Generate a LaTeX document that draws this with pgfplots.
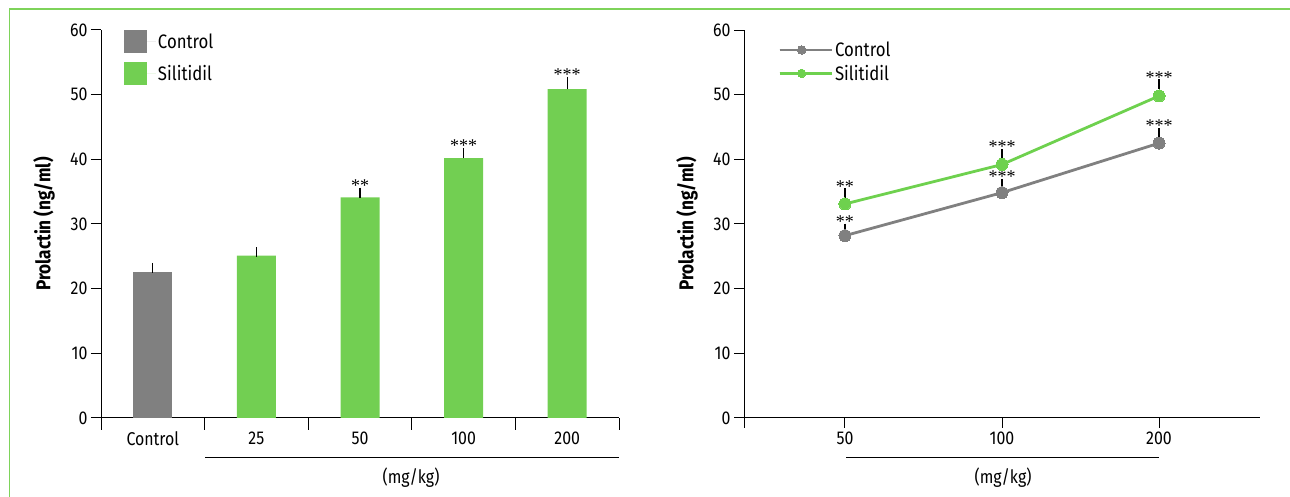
\documentclass[border=0pt]{standalone}
\usepackage{fontspec}
\setmainfont{Fira Sans}[FakeStretch=0.86]
\newfontfamily\starfont{Liberation Serif}
\usepackage{pgfplots}
\pgfplotsset{compat=1.18}
\definecolor{cgrey}{RGB}{128,128,128}
\definecolor{cgreen}{RGB}{114,207,82}
\definecolor{lgreen}{RGB}{110,209,78}
\definecolor{framec}{RGB}{126,211,90}
\newcommand{\tickfont}{\fontsize{18.5}{20}\selectfont}
\newcommand{\legfont}{\fontsize{19.5}{21}\selectfont}
\newcommand{\stars}[1]{{\starfont\fontsize{18}{18}\selectfont #1}}
\pgfplotsset{
  common/.style={
    scale only axis,
    anchor=south west,
    ymin=0, ymax=60,
    ytick={0,10,...,60},
    axis lines=left,
    axis line style={-, line width=1pt, black},
    tick align=outside,
    tick pos=left,
    major tick length=10pt,
    every tick/.style={black, line width=1pt},
    ticklabel style={font=\tickfont},
    /pgf/number format/assume math mode=true,
    ylabel={\bfseries Prolactin (ng/ml)},
    every axis y label/.style={at={(rel axis cs:0,0.5)}, xshift=-57pt, rotate=90, anchor=center, font=\fontsize{20}{22}\selectfont},
    clip=false,
  },
  ebar/.style={error bars/.cd, y dir=plus, y explicit,
    error bar style={black, line width=1pt},
    error mark options={black, line width=1.2pt, mark size=5pt}},
}
\begin{document}
\begin{tikzpicture}
\path[use as bounding box] (0pt,0pt) rectangle (1290pt,497pt);
\draw[framec, line width=1.2pt] (9.5pt,0pt) -- (9.5pt,488pt) -- (1290pt,488pt);

% ---------------- left: bars
\begin{axis}[common,
  at={(101pt,79pt)}, width=518pt, height=388pt,
  xmin=-0.5, xmax=4.5,
  ybar, bar width=39pt, bar shift=0pt,
  xtick={0,1,2,3,4}, xticklabels={Control,25,50,100,200},
  major x tick style={draw=none},
  minor xtick={-0.5,0.5,1.5,2.5,3.5,4.5},
  minor tick length=12pt,
  legend style={at={(rel axis cs:0.044,1.0)}, anchor=north west, draw=none, fill=none,
    inner sep=0pt, row sep=9pt, font=\legfont, cells={anchor=west}},
  legend image code/.code={\fill[#1, draw=none] (0pt,-11.5pt) rectangle (23pt,11.5pt); \path (0pt,0pt) -- (32pt,0pt);},
]
\addplot[fill=cgrey, draw=none, ebar]
  coordinates {(0,22.5) +- (0,0.7)};
\addlegendentry{Control}
\addplot[fill=cgreen, draw=none, ebar]
  coordinates {(1,25.1) +- (0,0.5) (2,34.1) +- (0,0.75) (3,40.2) +- (0,0.75) (4,50.85) +- (0,1.15)};
\addlegendentry{Silitidil}
\node[anchor=south, inner sep=0pt, yshift=1pt] at (axis cs:2,34.85) {\stars{**}};
\node[anchor=south, inner sep=0pt, yshift=1pt] at (axis cs:3,40.95) {\stars{***}};
\node[anchor=south, inner sep=0pt, yshift=1pt] at (axis cs:4,52.0) {\stars{***}};
\end{axis}
\draw[line width=1pt] (205pt,39pt) -- (619pt,39pt);
\node[font=\tickfont] at (411pt,19pt) {(mg/kg)};

% ---------------- right: lines
\begin{axis}[common,
  at={(744pt,79pt)}, width=516pt, height=388pt,
  xmin=-0.643, xmax=2.643,
  xtick={0,1,2}, xticklabels={50,100,200},
  minor xtick={-0.643},
  minor tick length=10pt,
  legend style={at={(rel axis cs:0.066,0.975)}, anchor=north west, draw=none, fill=none,
    inner sep=0pt, row sep=3pt, font=\legfont, cells={anchor=west}},
  legend image code/.code={\draw[#1, line width=2.8pt, mark size=4.2pt, mark repeat=2, mark phase=2] plot coordinates {(0pt,0pt) (22pt,0pt) (45pt,0pt)}; \path (0pt,0pt) -- (52pt,0pt);},
]
\addplot[cgrey, line width=2.8pt, mark=*, mark size=6pt, mark options={fill=cgrey, draw=cgrey, line width=0pt}, ebar]
  coordinates {(0,28.2) +- (0,1.1) (1,34.85) +- (0,1.35) (2,42.5) +- (0,1.6)};
\addlegendentry{Control}
\addplot[lgreen, line width=2.8pt, mark=*, mark size=6pt, mark options={fill=lgreen, draw=lgreen, line width=0pt}, ebar]
  coordinates {(0,33.1) +- (0,1.65) (1,39.2) +- (0,1.6) (2,49.8) +- (0,1.8)};
\addlegendentry{Silitidil}
\node[anchor=south, inner sep=0pt, yshift=1pt] at (axis cs:0,29.3) {\stars{**}};
\node[anchor=south, inner sep=0pt, yshift=1pt] at (axis cs:1,36.2) {\stars{***}};
\node[anchor=south, inner sep=0pt, yshift=1pt] at (axis cs:2,44.1) {\stars{***}};
\node[anchor=south, inner sep=0pt, yshift=1pt] at (axis cs:0,34.75) {\stars{**}};
\node[anchor=south, inner sep=0pt, yshift=1pt] at (axis cs:1,40.8) {\stars{***}};
\node[anchor=south, inner sep=0pt, yshift=1pt] at (axis cs:2,51.6) {\stars{***}};
\end{axis}
\draw[line width=1pt] (846pt,39pt) -- (1159pt,39pt);
\node[font=\tickfont] at (1003pt,19pt) {(mg/kg)};
\end{tikzpicture}
\end{document}
